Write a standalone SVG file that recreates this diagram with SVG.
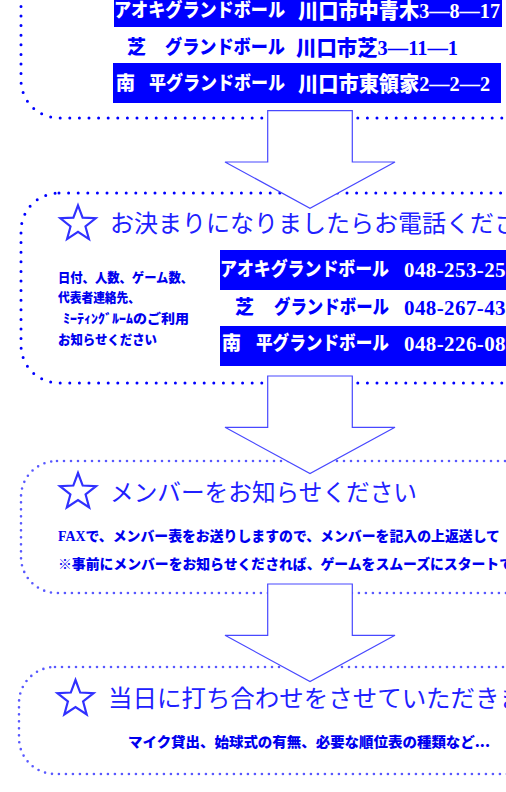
<svg xmlns="http://www.w3.org/2000/svg" width="506" height="792" viewBox="0 0 506 792">
<style>
.dotA{fill:none;stroke:#0000ff;stroke-width:3;stroke-linecap:round;stroke-dasharray:0 9.6}
.dotB{fill:none;stroke:#5858ff;stroke-width:2.6;stroke-linecap:round;stroke-dasharray:0 7}
.arrow{fill:#ffffff;stroke:#4848ff;stroke-width:1.2}
.bar{fill:#0000ff}
.row{font-family:"Liberation Serif","Noto Sans CJK JP",serif;font-weight:900;font-size:19px}
.num{font-size:21px}
.w{fill:#ffffff}
.b{fill:#0000ff}
.title{font-family:"Noto Sans CJK JP",sans-serif;font-size:24px;fill:#2020ff}
.note{font-family:"Noto Sans CJK JP",sans-serif;font-weight:900;font-size:13px;fill:#0000ee}
.fax{font-family:"Liberation Serif","Noto Sans CJK JP",serif;font-weight:900;font-size:14px;fill:#0000ee}
.star{fill:none;stroke:#3030ff;stroke-width:2.2;stroke-linejoin:miter}
</style>
<defs>
<polygon id="star" points="0,-19 4.7,-6.47 18.07,-5.87 7.61,2.47 11.17,15.37 0,8 -11.17,15.37 -7.61,2.47 -18.07,-5.87 -4.7,-6.47"/>
</defs>
<rect width="506" height="792" fill="#ffffff"/>

<g id="box1">
<rect class="dotA" x="21" y="-120" width="560" height="238" rx="38"/>
<rect class="bar" x="114" y="-5" width="388" height="32"/>
<text class="row w" x="114" y="17" textLength="171" lengthAdjust="spacingAndGlyphs">アオキグランドボール</text>
<text class="row num w" x="298" y="18" textLength="202" lengthAdjust="spacingAndGlyphs">川口市中青木3―8―17</text>
<text class="row b" x="127" y="54">芝</text>
<text class="row b" x="165" y="54" textLength="120" lengthAdjust="spacingAndGlyphs">グランドボール</text>
<text class="row num b" x="296" y="55" textLength="162" lengthAdjust="spacingAndGlyphs">川口市芝3―11―1</text>
<rect class="bar" x="113" y="63" width="388" height="40"/>
<text class="row w" x="116" y="90">南</text>
<text class="row w" x="149" y="90" textLength="136" lengthAdjust="spacingAndGlyphs">平グランドボール</text>
<text class="row num w" x="298" y="91" textLength="192" lengthAdjust="spacingAndGlyphs">川口市東領家2―2―2</text>
</g>

<g id="box2">
<rect class="dotA" x="21" y="193" width="560" height="190" rx="38"/>
<use href="#star" class="star" transform="translate(78,224) scale(0.98)"/>
<text class="title" x="110" y="232">お決まりになりましたらお電話くださ</text>
<text class="note" x="58" y="282" textLength="135" lengthAdjust="spacingAndGlyphs">日付、人数、ゲーム数、</text>
<text class="note" x="58" y="302" textLength="82" lengthAdjust="spacingAndGlyphs">代表者連絡先、</text>
<text class="note" x="63" y="323" textLength="126" lengthAdjust="spacingAndGlyphs">ﾐｰﾃｨﾝｸﾞﾙｰﾑのご利用</text>
<text class="note" x="58" y="344" textLength="99" lengthAdjust="spacingAndGlyphs">お知らせください</text>
<rect class="bar" x="220" y="250" width="300" height="40"/>
<text class="row w" x="220" y="276" textLength="169" lengthAdjust="spacingAndGlyphs">アオキグランドボール</text>
<text class="row num w" x="404" y="277" letter-spacing="0.4">048-253-25</text>
<text class="row b" x="235" y="314">芝</text>
<text class="row b" x="274" y="314" textLength="115" lengthAdjust="spacingAndGlyphs">グランドボール</text>
<text class="row num b" x="404" y="315" letter-spacing="0.4">048-267-43</text>
<rect class="bar" x="220" y="326" width="300" height="40"/>
<text class="row w" x="222" y="350">南</text>
<text class="row w" x="256" y="350" textLength="133" lengthAdjust="spacingAndGlyphs">平グランドボール</text>
<text class="row num w" x="404" y="351" letter-spacing="0.4">048-226-08</text>
</g>

<g id="box3">
<rect class="dotB" x="21" y="461" width="560" height="132" rx="36"/>
<use href="#star" class="star" transform="translate(78,492)"/>
<text class="title" x="110" y="501" textLength="307" lengthAdjust="spacingAndGlyphs">メンバーをお知らせください</text>
<text class="fax" x="58" y="541" textLength="442" lengthAdjust="spacingAndGlyphs">FAXで、メンバー表をお送りしますので、メンバーを記入の上返送して</text>
<text class="fax" x="58" y="569" textLength="455" lengthAdjust="spacingAndGlyphs">※事前にメンバーをお知らせくだされば、ゲームをスムーズにスタートで</text>
</g>

<g id="box4">
<rect class="dotB" x="19" y="667" width="560" height="107" rx="36"/>
<use href="#star" class="star" transform="translate(75.5,699)"/>
<text class="title" x="108" y="707" textLength="416" lengthAdjust="spacingAndGlyphs">当日に打ち合わせをさせていただきま</text>
<text class="note" x="128" y="747" style="font-size:14px" textLength="362" lengthAdjust="spacingAndGlyphs">マイク貸出、始球式の有無、必要な順位表の種類など...</text>
</g>

<g id="connectors">
<polygon class="arrow" points="267.7,110.7 352.3,110.7 352.3,162 395,162 310,208.3 225,162 267.7,162"/>
<polygon class="arrow" points="267.7,376 352.3,376 352.3,427.3 395,427.3 310,473.6 225,427.3 267.7,427.3"/>
<polygon class="arrow" points="267.7,584 352.3,584 352.3,635.3 395,635.3 310,681.6 225,635.3 267.7,635.3"/>
</g>
</svg>
